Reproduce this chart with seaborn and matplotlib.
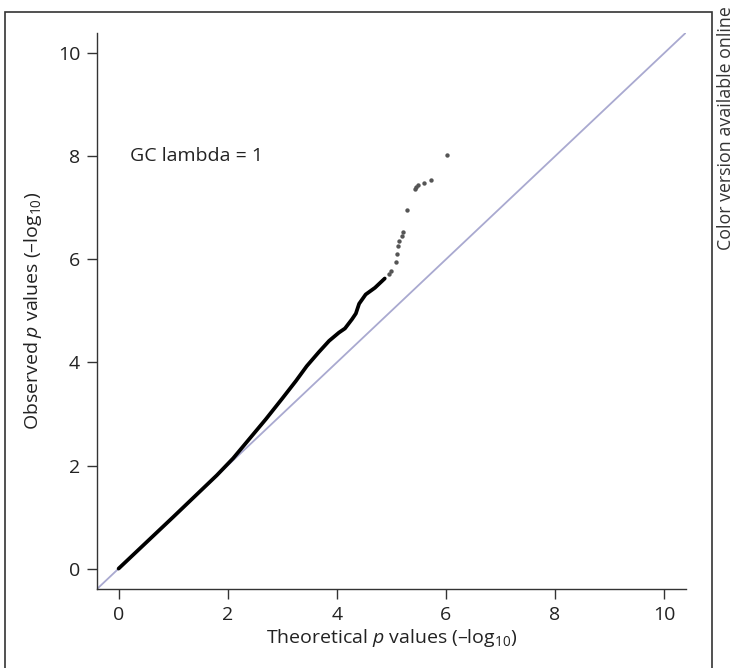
import matplotlib
matplotlib.use("Agg")
import matplotlib.pyplot as plt
from matplotlib.patches import Rectangle
import numpy as np
import pandas as pd
import seaborn as sns

# dense body of the QQ curve (-log10 p)
body_expected = [0.0, 1.0, 1.8, 2.1, 2.4, 2.7, 3.0, 3.25, 3.45, 3.67, 3.86, 4.04,
                 4.15, 4.28, 4.35, 4.41, 4.53, 4.7, 4.88]
body_observed = [0.0, 1.0, 1.81, 2.14, 2.52, 2.9, 3.3, 3.64, 3.93, 4.2, 4.42, 4.58,
                 4.66, 4.84, 4.95, 5.14, 5.32, 5.45, 5.63]

# sparse upper tail
tail_expected = [4.96, 5.0, 5.09, 5.10, 5.12, 5.14, 5.19, 5.21, 5.29, 5.43,
                 5.45, 5.49, 5.60, 5.73, 6.02]
tail_observed = [5.72, 5.78, 5.95, 6.11, 6.27, 6.36, 6.46, 6.54, 6.95, 7.36,
                 7.41, 7.45, 7.48, 7.55, 8.03]

ticks = [0, 2, 4, 6, 8, 10]
lim = (-0.4, 10.4)

sns.set_style("ticks")
plt.rcParams['font.family'] = ['Open Sans', 'DejaVu Sans']
plt.rcParams['mathtext.fontset'] = 'custom'
plt.rcParams['mathtext.rm'] = 'Open Sans'
plt.rcParams['mathtext.it'] = 'Open Sans:italic'

body = pd.DataFrame({'expected': body_expected, 'observed': body_observed})
tail = pd.DataFrame({'expected': tail_expected, 'observed': tail_observed})

fig = plt.figure(figsize=(7.39, 6.68), dpi=100)
ax = fig.add_axes([0.131, 0.118, 0.797, 0.833])

# reference diagonal
ax.plot(lim, lim, color='#a9a9d0', lw=1.3, zorder=1)

sns.lineplot(data=body, x='expected', y='observed', sort=False, ax=ax,
             color='black', lw=2.7, solid_capstyle='round', zorder=3)
sns.scatterplot(data=tail, x='expected', y='observed', ax=ax,
                color='#555555', s=10, linewidth=0, zorder=3)

ax.text(0.2, 8.0, 'GC lambda = 1', fontsize=14, va='center', ha='left', color='#222222')

ax.set_xlim(lim)
ax.set_ylim(lim)
ax.set_xticks(ticks)
ax.set_yticks(ticks)
ax.tick_params(labelsize=14, length=7, width=1, color='#333333', pad=5, labelcolor='#222222')
ax.set_xlabel('Theoretical $\\mathit{p}$ values (–log$_{10}$)', fontsize=14,
              color='#222222', labelpad=2)
ax.set_ylabel('Observed $\\mathit{p}$ values (–log$_{10}$)', fontsize=14,
              color='#222222', labelpad=10)
sns.despine(ax=ax)
for s in ['left', 'bottom']:
    ax.spines[s].set_color('#333333')
    ax.spines[s].set_linewidth(1)

# outer panel frame
fig.patches.append(Rectangle((5 / 739, -0.05), 707 / 739, 1.05 - 12 / 668,
                             transform=fig.transFigure, fill=False,
                             edgecolor='#333333', lw=1.2))
fig.text(726 / 739, 1 - 250 / 668, 'Color version available online',
         rotation=90, ha='center', va='bottom', fontsize=12.8, color='#333333')

fig.savefig('out.png', dpi=100)
